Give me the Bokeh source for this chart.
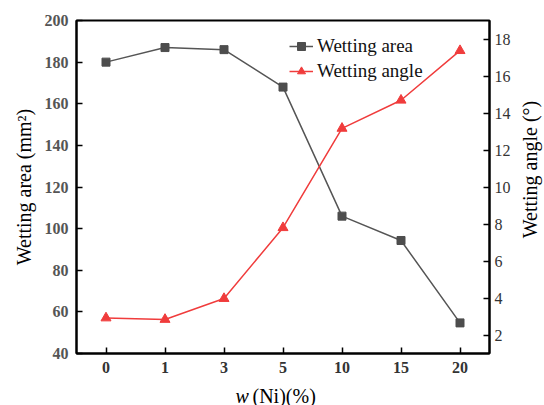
import math
from bokeh.plotting import figure
from bokeh.models import Range1d, LinearAxis, FactorRange, Legend, LegendItem, Label
from bokeh.layouts import column, row
from bokeh.embed import file_html
from bokeh.resources import INLINE

ni_content = ["0", "1", "3", "5", "10", "15", "20"]
wetting_area = [180, 187, 186, 168, 106, 94.3, 54.7]
wetting_angle = [2.92, 2.84, 3.97, 7.8, 13.17, 14.69, 17.37]
area_ticks = [40, 60, 80, 100, 120, 140, 160, 180, 200]
angle_ticks = [2, 4, 6, 8, 10, 12, 14, 16, 18]

FONT = "Liberation Serif"
GRAY = "#4d4d4d"
RED = "#f03c3c"

p = figure(width=516, height=379, x_range=FactorRange(factors=ni_content),
           y_range=Range1d(40, 200), output_backend="svg", toolbar_location=None,
           min_border_left=76, min_border_right=27, min_border_top=20, min_border_bottom=26)
p.extra_y_ranges = {"angle": Range1d(1, 19)}

p.grid.visible = False
p.background_fill_color = "white"
p.border_fill_color = "white"
p.outline_line_color = "black"
p.outline_line_width = 2

# left axis
ya = p.yaxis[0]
ya.ticker = area_ticks
ya.axis_label = "Wetting area (mm²)"
ya.axis_label_text_font = FONT
ya.axis_label_text_font_size = "20px"
ya.axis_label_text_font_style = "normal"
ya.axis_label_text_color = "black"
ya.axis_label_standoff = 7
ya.major_label_text_font = FONT
ya.major_label_text_font_size = "16px"
ya.major_label_text_font_style = "bold"
ya.major_label_text_color = "#555555"
ya.major_label_standoff = 8
ya.major_tick_in = 6
ya.major_tick_out = 0
ya.minor_tick_line_color = None
ya.axis_line_width = 2
ya.major_tick_line_width = 1.5

# x axis
xa = p.xaxis[0]
xa.axis_label = None
xa.major_label_text_font = FONT
xa.major_label_text_font_size = "16px"
xa.major_label_text_font_style = "bold"
xa.major_label_text_color = "#333333"
xa.major_label_standoff = 8
xa.major_tick_in = 6
xa.major_tick_out = 0
xa.axis_line_width = 2
xa.major_tick_line_width = 1.5

# right axis (title drawn in side figure)
ra = LinearAxis(y_range_name="angle", ticker=angle_ticks)
ra.major_label_text_font = FONT
ra.major_label_text_font_size = "16px"
ra.major_label_text_color = "#333333"
ra.major_label_standoff = 5
ra.major_tick_in = 6
ra.major_tick_out = 0
ra.minor_tick_line_color = None
ra.axis_line_width = 2
ra.major_tick_line_width = 1.5
p.add_layout(ra, "right")

la = p.line(ni_content, wetting_area, line_color="#555555", line_width=1.5)
sa = p.scatter(ni_content, wetting_area, marker="square", size=8, fill_color=GRAY, line_color=GRAY)
lb = p.line(ni_content, wetting_angle, y_range_name="angle", line_color=RED, line_width=1.5)
sb = p.scatter(ni_content, wetting_angle, y_range_name="angle", marker="triangle", size=10,
               fill_color=RED, line_color=RED)

legend = Legend(items=[LegendItem(label="Wetting area", renderers=[la, sa]),
                       LegendItem(label="Wetting angle", renderers=[lb, sb])],
                location=(213, 271), orientation="vertical")
legend.background_fill_alpha = 0
legend.border_line_color = None
legend.label_text_font = FONT
legend.label_text_font_size = "19px"
legend.label_text_color = "#111111"
legend.glyph_width = 24
legend.glyph_height = 20
legend.label_height = 20
legend.spacing = 3
legend.padding = 0
legend.margin = 0
legend.label_standoff = 4
p.add_layout(legend, "center")


def blank(w, h):
    f = figure(width=w, height=h, output_backend="svg", toolbar_location=None,
               x_axis_location=None, y_axis_location=None, min_border=0,
               x_range=Range1d(0, 1), y_range=Range1d(0, 1))
    f.grid.visible = False
    f.outline_line_color = None
    f.background_fill_color = "white"
    f.border_fill_color = "white"
    return f


# right axis title
p3 = blank(28, 379)
p3.add_layout(Label(x=13, y=184, x_units="screen", y_units="screen", text="Wetting angle (°)",
                    angle=math.pi / 2, text_align="center", text_baseline="middle",
                    text_font=FONT, text_font_size="20px", text_color="black"))

# x axis title: italic w + (Ni)(%)
p2 = blank(544, 26)
p2.add_layout(Label(x=235, y=10, x_units="screen", y_units="screen", text="w", text_baseline="middle",
                    text_font=FONT, text_font_size="20px", text_font_style="italic", text_color="black"))
p2.add_layout(Label(x=252, y=10, x_units="screen", y_units="screen", text="(Ni)(%)", text_baseline="middle",
                    text_font=FONT, text_font_size="20px", text_color="black"))

layout = column(row(p, p3, spacing=0), p2, spacing=0)
open("out.html", "w").write(file_html(layout, INLINE))
